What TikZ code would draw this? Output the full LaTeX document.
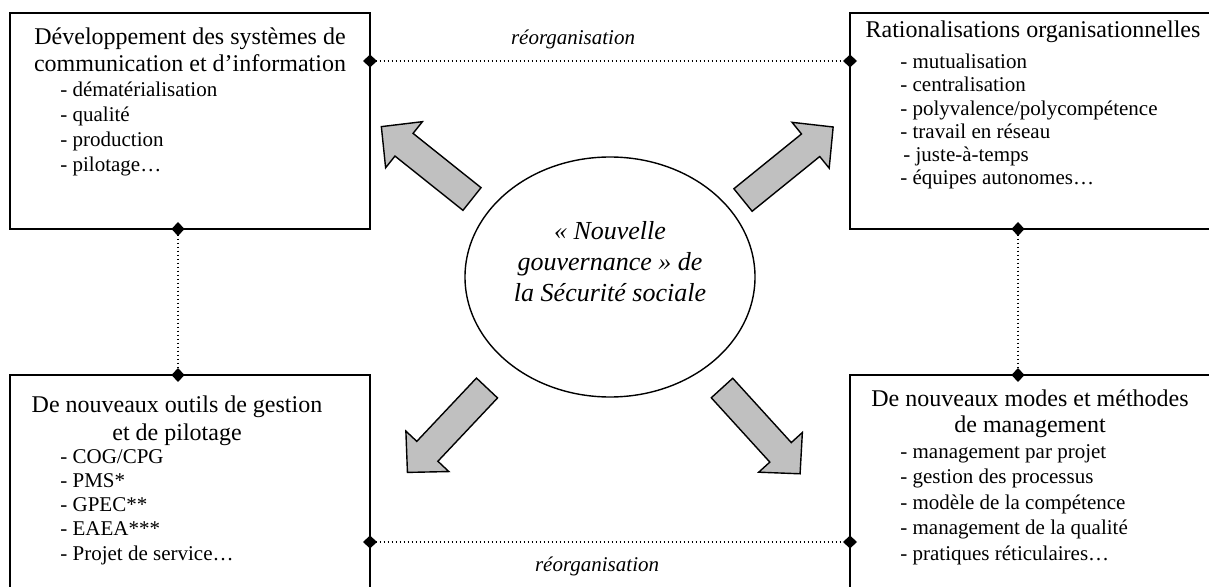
\documentclass[tikz,border=0pt]{standalone}
\usepackage{fontspec}
\setmainfont{Liberation Serif}
\usepackage{xcolor}
\usepackage{tikz}
\usetikzlibrary{arrows.meta, shapes.geometric}

\definecolor{grisfleche}{RGB}{192,192,192}

\begin{document}
\begin{tikzpicture}[
  x=0.5pt,
  y=-0.5pt,
  boite/.style={
    draw,
    line width=1.1pt,
    inner sep=0pt,
    outer sep=0pt
  },
  titre/.style={
    font=\fontsize{12}{#1}\selectfont,
    align=center,
    inner sep=0pt,
    anchor=base
  },
  titre/.default=13.8pt,
  liste/.style={
    font=\fontsize{10.5}{#1}\selectfont,
    align=left,
    inner sep=0pt,
    anchor=base west
  },
  liste/.default=12.2pt,
  lien/.style={
    {Diamond[length=7pt,width=6.5pt]}-{Diamond[length=7pt,width=6.5pt]},
    line width=0.9pt,
    dash pattern=on 0.9pt off 1.1pt,
    shorten <=-3.5pt,
    shorten >=-3.5pt
  },
  reorg/.style={
    font=\fontsize{10.5}{12}\selectfont\itshape,
    inner sep=0pt,
    anchor=base
  },
  fleche/.pic={
    \draw[line width=0.7pt, fill=grisfleche, line join=miter]
      (0,-14.5) -- (87,-14.5) -- (87,-29.5) -- (116,0) -- (87,29.5)
      -- (87,14.5) -- (0,14.5) -- cycle;
  }
]

\useasboundingbox (0,0) rectangle (1209,587);
\clip (0,0) rectangle (1209,587);

% Boxes
\node [boite, minimum width=180pt, minimum height=108pt] (dev) at (190,121) {};
\node [boite, minimum width=182pt, minimum height=108pt] (rat) at (1032,121) {};
\node [boite, minimum width=180pt, minimum height=115pt] (outils) at (190,490) {};
\node [boite, minimum width=182pt, minimum height=115pt] (modes) at (1032,490) {};

% Texts of the boxes (anchored on the last line)
\node [titre=13.75pt] (devtitre) at (190,72) {Développement des systèmes de\\ communication et d’information};
\node [liste=12.5pt] (devliste) at (60,172) {- dématérialisation\\ - qualité\\ - production\\ - pilotage…};

\node [titre] (rattitre) at (1033,38) {Rationalisations organisationnelles};
\node [liste=11.65pt] (ratliste) at (900,185) {- mutualisation\\ - centralisation\\ - polyvalence/polycompétence\\ - travail en réseau\\ \hspace{1.5pt}- juste-à-temps\\ - équipes autonomes…};

\node [titre=14pt] (outilstitre) at (177,440) {De nouveaux outils de gestion\\ et de pilotage};
\node [liste=12.1pt] (outilsliste) at (60,560) {- COG/CPG\\ - PMS*\\ - GPEC**\\ - EAEA***\\ - Projet de service…};

\node [titre=13pt] (modestitre) at (1030,432) {De nouveaux modes et méthodes\\ de management};
\node [liste=12.75pt] (modesliste) at (900,560) {- management par projet\\ - gestion des processus\\ - modèle de la compétence\\ - management de la qualité\\ - pratiques réticulaires…};

% Dotted links between boxes
\draw [lien] ([yshift=-24pt]dev.north east) -- ([yshift=-24pt]rat.north west)
  node [reorg, pos=0.423, yshift=8pt] {réorganisation};
\draw [lien] ([yshift=-83.5pt]outils.north east) -- ([yshift=-83.5pt]modes.north west)
  node [reorg, pos=0.473, yshift=-14.5pt] {réorganisation};
\draw [lien] ([xshift=-6pt]dev.south) -- ([xshift=-6pt]outils.north);
\draw [lien] ([xshift=-7pt]rat.south) -- ([xshift=-7pt]modes.north);

% Centre
\node [draw, ellipse, line width=0.7pt, minimum width=145pt, minimum height=120pt, inner sep=0pt] (gouv) at (610,277) {};
\node [font=\fontsize{13}{15.6pt}\selectfont\itshape, align=center, inner sep=0pt, anchor=base] (gouvtexte) at (610,302) {« Nouvelle\\ gouvernance » de\\ la Sécurité sociale};

% Block arrows
\pic [rotate=141.4] at (472,199) {fleche};
\pic [rotate=39] at (743,200) {fleche};
\pic [rotate=226.7] at (487,388) {fleche};
\pic [rotate=312.3] at (722,388) {fleche};

\end{tikzpicture}
\end{document}
